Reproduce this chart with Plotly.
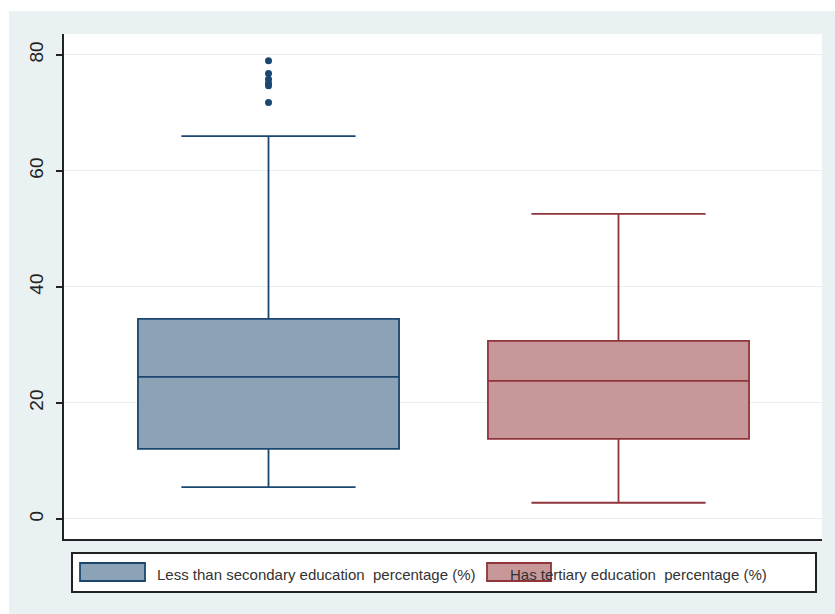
import plotly.graph_objects as go

# Series names and summary statistics (percent of population)
series_names = [
    "Less than secondary education  percentage (%)",
    "Has tertiary education  percentage (%)",
]
box_x = [0, 1]
q1_vals = [12.1, 13.8]
median_vals = [24.5, 23.8]
q3_vals = [34.5, 30.7]
lower_whisker = [5.5, 2.8]
upper_whisker = [66.0, 52.6]

# Outside values for the first group
outliers_low_edu = [79.0, 76.8, 75.8, 75.1, 74.7, 71.8]

y_ticks = [0, 20, 40, 60, 80]

line_colors = ["#1a476f", "#90353b"]
fill_colors = ["#8ca2b7", "#c7979a"]

W, H = 835, 614
L, R, T, B = 64, 13, 34, 75
plot_w = W - L - R
plot_h = H - T - B


def px_x(px):
    return (px - L) / plot_w


def px_y(py):
    return (H - B - py) / plot_h


fig = go.Figure()

for i in range(2):
    fig.add_trace(go.Box(
        x=[box_x[i]],
        q1=[q1_vals[i]],
        median=[median_vals[i]],
        q3=[q3_vals[i]],
        lowerfence=[lower_whisker[i]],
        upperfence=[upper_whisker[i]],
        name=series_names[i],
        width=0.746,
        whiskerwidth=0.667,
        fillcolor=fill_colors[i],
        line=dict(color=line_colors[i], width=1.8),
        boxpoints=False,
        showlegend=False,
        hoverinfo="skip",
    ))

fig.add_trace(go.Scatter(
    x=[box_x[0]] * len(outliers_low_edu),
    y=outliers_low_edu,
    mode="markers",
    marker=dict(color=line_colors[0], size=7),
    showlegend=False,
    hoverinfo="skip",
))

shapes = [
    # white strips around the grey frame
    dict(type="rect", xref="paper", yref="paper",
         x0=px_x(0), x1=px_x(W), y0=px_y(11), y1=px_y(0),
         fillcolor="white", line=dict(width=0), layer="above"),
    dict(type="rect", xref="paper", yref="paper",
         x0=px_x(0), x1=px_x(9), y0=px_y(H), y1=px_y(0),
         fillcolor="white", line=dict(width=0), layer="above"),
    # legend frame
    dict(type="rect", xref="paper", yref="paper",
         x0=px_x(72), x1=px_x(816), y0=px_y(592), y1=px_y(553),
         fillcolor="white", line=dict(color="#222222", width=2)),
]

annotations = []
swatch_x = [(80, 145), (487, 551)]
text_x = [155, 508]
for i in range(2):
    x0, x1 = swatch_x[i]
    shapes.append(dict(
        type="rect", xref="paper", yref="paper",
        x0=px_x(x0), x1=px_x(x1), y0=px_y(581), y1=px_y(563),
        fillcolor=fill_colors[i], line=dict(color=line_colors[i], width=1.8),
    ))
    annotations.append(dict(
        xref="paper", yref="paper", x=px_x(text_x[i]), y=px_y(574),
        xanchor="left", yanchor="middle", showarrow=False,
        text=series_names[i],
        font=dict(family="Liberation Sans", size=15, color="#333333"),
    ))

fig.update_layout(
    width=W, height=H,
    margin=dict(l=L, r=R, t=T, b=B, pad=0),
    paper_bgcolor="#eaf1f3",
    plot_bgcolor="white",
    shapes=shapes,
    annotations=annotations,
    showlegend=False,
    font=dict(family="Liberation Sans", color="#222222"),
)

# boxes centred at pixel columns 268.5 and 618.5 (350 px apart)
fig.update_xaxes(
    range=[(L - 268.5) / 350, (W - R - 268.5) / 350],
    showticklabels=False, ticks="", showgrid=False, zeroline=False,
    showline=True, linecolor="#222222", linewidth=2,
)

fig.update_yaxes(
    range=[-3.45, 83.6],
    tickvals=y_ticks, ticktext=[str(v) for v in y_ticks],
    tickangle=-90, ticks="outside", ticklen=6, tickwidth=1.5,
    tickcolor="#222222", ticklabelstandoff=5,
    tickfont=dict(size=19, color="#222222"),
    showgrid=True, gridcolor="#e6eff2", gridwidth=1,
    zeroline=False, showline=True, linecolor="#222222", linewidth=2,
)

fig.write_html("out.html")
